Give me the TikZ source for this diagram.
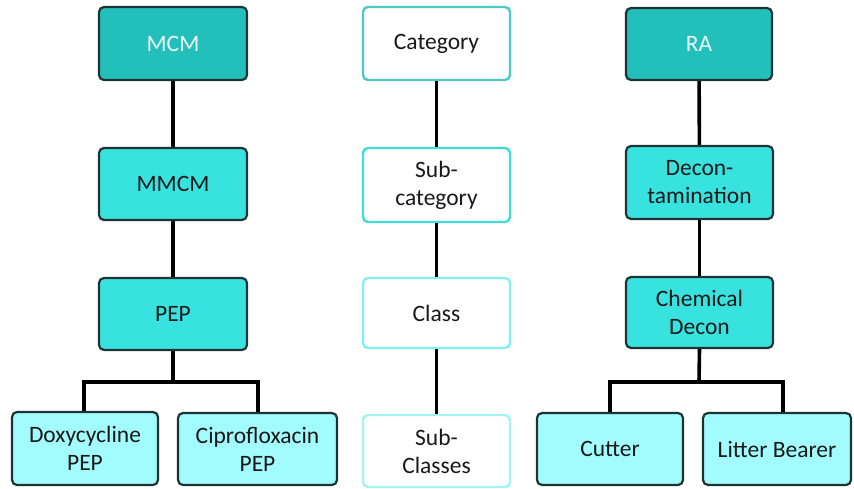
\documentclass[tikz,border=0pt]{standalone}
\usepackage{fontspec}
\setmainfont{Carlito}
\definecolor{darkteal}{HTML}{22BFBB}
\definecolor{midcyan}{HTML}{38E3DF}
\definecolor{lightcyan}{HTML}{A2FBFC}
\definecolor{edgedark}{HTML}{1E3434}
\definecolor{bcat}{HTML}{4EC8C4}
\definecolor{bsub}{HTML}{3FDEDA}
\definecolor{bclass}{HTML}{82F0F0}
\definecolor{bsubcl}{HTML}{A3F4F4}
\tikzset{
  box/.style={draw=edgedark, line width=2.2pt, rounded corners=5pt, align=center,
    font=\fontsize{23.5}{28}\selectfont, text=black!90, inner sep=0pt},
  topbox/.style={box, fill=darkteal, text=white!92!darkteal},
  midbox/.style={box, fill=midcyan},
  leafbox/.style={box, fill=lightcyan},
  catbox/.style={box, fill=white, line width=2.4pt},
  conn/.style={line width=3.6pt, black},
}
\begin{document}
\begin{tikzpicture}[x=1pt,y=-1pt]
\useasboundingbox (0,0) rectangle (854,489);
% left column
\node[topbox, minimum width=148pt, minimum height=73pt] (mcm) at (173,43.5) {MCM};
\node[midbox, minimum width=148pt, minimum height=72pt] (mmcm) at (173,184) {MMCM};
\node[midbox, minimum width=148pt, minimum height=72pt] (pep) at (173,314) {PEP};
\node[leafbox, minimum width=146pt, minimum height=73pt] (doxy) at (85,448.5) {Doxycycline\\PEP};
\node[leafbox, minimum width=159pt, minimum height=72pt] (cipro) at (257.5,449) {Ciprofloxacin\\PEP};
% middle column
\node[catbox, draw=bcat, minimum width=147pt, minimum height=73pt] (cat) at (436.5,43.5) {Category};
\node[catbox, draw=bsub, minimum width=147pt, minimum height=74pt] (subcat) at (436.5,185) {Sub-\\category};
\node[catbox, draw=bclass, minimum width=147pt, minimum height=70pt] (class) at (436.5,313) {Class};
\node[catbox, draw=bsubcl, minimum width=147pt, minimum height=72pt] (subcl) at (436.5,451) {Sub-\\Classes};
% right column
\node[topbox, minimum width=146pt, minimum height=72pt] (ra) at (699,44) {RA};
\node[midbox, minimum width=147pt, minimum height=73pt] (decon) at (699.5,182.5) {Decon-\\tamination};
\node[midbox, minimum width=147pt, minimum height=71pt] (chem) at (699.5,312.5) {Chemical\\Decon};
\node[leafbox, minimum width=146pt, minimum height=72pt] (cutter) at (610,449) {Cutter};
\node[leafbox, minimum width=148pt, minimum height=72pt] (litter) at (777,449) {Litter Bearer};
% junction coordinates
\coordinate (jl) at (173,382);
\coordinate (jr) at (699,382);
\coordinate (litterin) at (783,412);
% connectors
\draw[conn] (mcm) -- (mmcm);
\draw[conn] (mmcm) -- (pep);
\draw[conn] (cat) -- (subcat);
\draw[conn] (subcat) -- (class);
\draw[conn] (class) -- (subcl);
\draw[conn] (ra) -- (decon);
\draw[conn] (decon) -- (chem);
\draw[conn] (pep.south) -- (jl);
\draw[conn, line join=miter] (doxy.north -| 84,0) |- (jl) -| (cipro.north -| 258,0);
\draw[conn] (chem.south) -- (jr);
\draw[conn, line join=miter] (cutter.north) |- (jr) -| (litterin);
\end{tikzpicture}
\end{document}
